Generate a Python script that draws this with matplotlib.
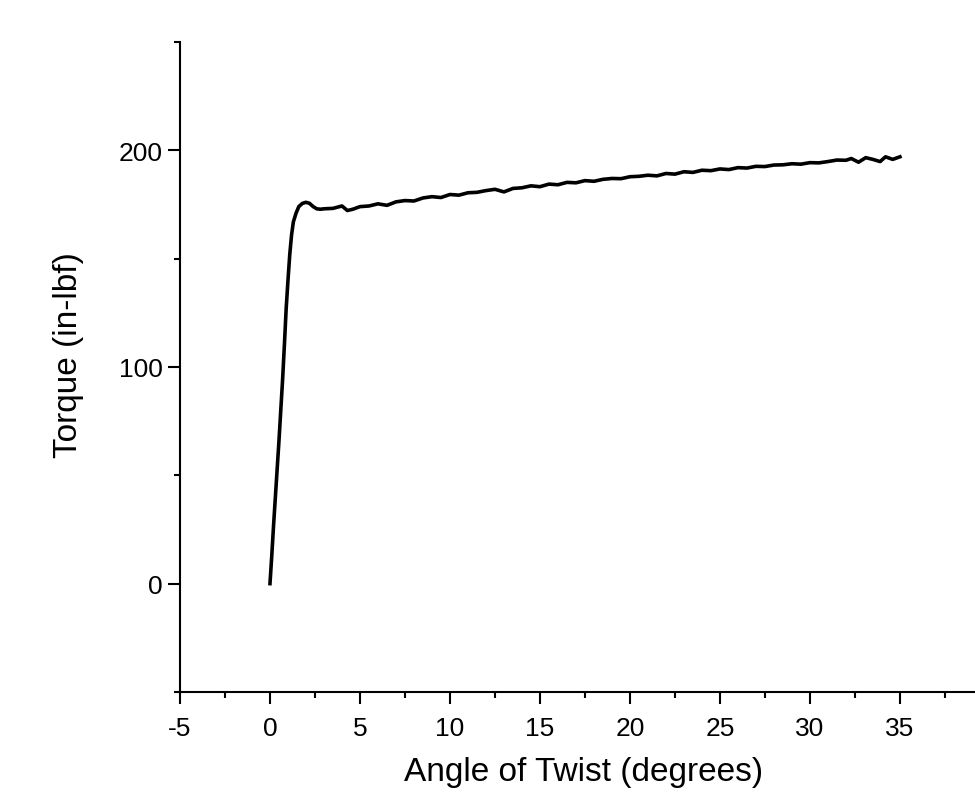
import matplotlib
matplotlib.use("Agg")
import matplotlib.pyplot as plt
from matplotlib.ticker import MultipleLocator

# angle of twist (degrees) and torque (in-lbf)
angle = [0.0, 0.1, 0.2, 0.3, 0.4, 0.5, 0.6, 0.7, 0.8, 0.9, 1.0, 1.1, 1.2, 1.3,
         1.45, 1.6, 1.8, 2.0, 2.2, 2.4, 2.6, 2.8, 3.0, 3.5, 4.0, 4.3, 4.6,
         5.0, 5.5, 6.0, 6.5, 7.0, 7.5, 8.0, 8.5, 9.0, 9.5, 10.0, 10.5, 11.0,
         11.5, 12.0, 12.5, 13.0, 13.5, 14.0, 14.5, 15.0, 15.5, 16.0, 16.5,
         17.0, 17.5, 18.0, 18.5, 19.0, 19.5, 20.0, 20.5, 21.0, 21.5, 22.0,
         22.5, 23.0, 23.5, 24.0, 24.5, 25.0, 25.5, 26.0, 26.5, 27.0, 27.5,
         28.0, 28.5, 29.0, 29.5, 30.0, 30.5, 31.0, 31.5, 32.0, 32.3, 32.7,
         33.1, 33.5, 33.9, 34.2, 34.6, 35.0]
torque = [0.0, 13, 27, 40, 53, 66, 80, 94, 110, 127, 140, 152, 161, 167,
          171, 174, 175.5, 176, 175.5, 174, 173, 172.8, 173, 173.2, 174.3, 172.2, 172.8,
          174, 174.3, 175.3, 174.6, 176.2, 176.8, 176.6, 178, 178.6, 178.2, 179.6, 179.3, 180.4,
          180.6, 181.4, 182, 180.8, 182.4, 182.7, 183.6, 183.2, 184.4, 184.1, 185.2,
          185, 186, 185.7, 186.6, 187, 186.9, 187.8, 188, 188.5, 188.2, 189.3,
          189, 190.1, 189.8, 190.8, 190.6, 191.4, 191.1, 192, 191.8, 192.6, 192.5,
          193.2, 193.3, 193.8, 193.6, 194.3, 194.2, 194.8, 195.5, 195.4, 196.2, 194.5,
          196.6, 195.8, 194.8, 197, 195.8, 197]

plt.rcParams['font.family'] = ['Liberation Sans', 'DejaVu Sans']
plt.rcParams['axes.unicode_minus'] = False

fig = plt.figure(figsize=(9.75, 8.03), dpi=100)
# axes run past the right edge, as in the original export
ax = fig.add_axes([0.1846, 0.137, 0.923, 0.8095])

ax.plot(angle, torque, color='black', linewidth=2.6, solid_joinstyle='round')

ax.set_xlim(-5, 45)
ax.set_ylim(-50, 250)
ax.xaxis.set_major_locator(MultipleLocator(5))
ax.xaxis.set_minor_locator(MultipleLocator(2.5))
ax.yaxis.set_major_locator(MultipleLocator(100))
ax.yaxis.set_minor_locator(MultipleLocator(50))

for side in ['top', 'right']:
    ax.spines[side].set_visible(False)
for side in ['left', 'bottom']:
    ax.spines[side].set_linewidth(1.5)

ax.tick_params(which='major', direction='out', length=8.5, width=1.5,
               labelsize=19)
ax.tick_params(axis='x', which='major', pad=9)
ax.tick_params(axis='y', which='major', pad=4)
ax.tick_params(which='minor', direction='out', length=4.5, width=1.5)

ax.set_xlabel('Angle of Twist (degrees)', fontsize=24)
ax.set_ylabel('Torque (in-lbf)', fontsize=24)
ax.xaxis.set_label_coords(0.449, -0.099)
ax.yaxis.set_label_coords(-0.107, 0.52)

fig.savefig('out.png', dpi=100)
